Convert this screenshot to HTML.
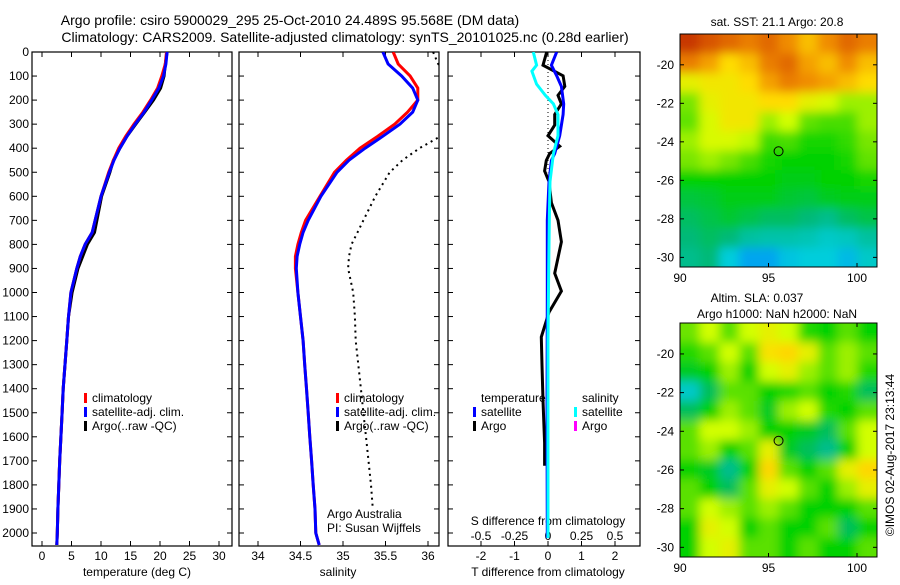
<!DOCTYPE html>
<html><head><meta charset="utf-8"><style>
html,body{margin:0;padding:0;background:#fff;}
svg text{font-family:"Liberation Sans",sans-serif;fill:#000;}
</style></head><body>
<svg id="c" width="900" height="580" xmlns="http://www.w3.org/2000/svg">
<defs>
<filter id="bl" x="-5%" y="-5%" width="110%" height="110%"><feGaussianBlur stdDeviation="5"/></filter>
<clipPath id="cp1"><rect x="41" y="52" width="191" height="494"/></clipPath>
<clipPath id="cp2"><rect x="239" y="52" width="200" height="494"/></clipPath>
<clipPath id="cp3"><rect x="448" y="52" width="192" height="494"/></clipPath>
<clipPath id="cm1"><rect x="680" y="34" width="197" height="233"/></clipPath>
<clipPath id="cm2"><rect x="680" y="323" width="197" height="234"/></clipPath>
</defs>
<text x="290" y="25" font-size="14" text-anchor="middle">Argo profile: csiro 5900029_295 25-Oct-2010 24.489S 95.568E (DM data)</text>
<text x="345" y="42" font-size="14" text-anchor="middle">Climatology: CARS2009. Satellite-adjusted climatology: synTS_20101025.nc (0.28d earlier)</text>
<g id="g"></g>
</svg>
<script>
// ---- data ----
const depths=[0,50,100,150,200,250,300,350,400,450,500,600,700,750,800,850,900,1000,1100,1200,1300,1400,1500,1600,1700,1800,1900,2000,2050];
const tempSat=[21.2,21.0,20.6,19.8,18.6,17.3,15.8,14.4,13.2,12.2,11.4,10.0,9.0,8.5,7.3,6.5,5.9,4.9,4.5,4.2,3.9,3.6,3.4,3.2,3.0,2.85,2.7,2.6,2.5];
const tempClim=[21.1,20.9,20.3,19.6,18.4,17.1,15.6,14.2,13.0,12.1,11.3,10.0,9.0,8.5,7.3,6.5,5.9,4.9,4.5,4.2,3.9,3.6,3.4,3.2,3.0,2.85,2.7,2.6,2.5];
const tempArgo=[21.2,20.9,20.7,20.1,18.9,17.4,15.9,14.4,13.2,12.1,11.5,10.1,9.3,8.9,7.7,6.9,6.1,5.1,4.5,4.2,3.9,3.6,3.4,3.2,3.0,2.85,2.7,2.6,2.5];
const salSat=[35.47,35.53,35.69,35.82,35.88,35.82,35.67,35.47,35.26,35.07,34.93,34.74,34.59,34.53,34.49,34.46,34.45,34.47,34.5,34.53,34.55,34.57,34.59,34.61,34.63,34.65,34.67,34.68,34.72];
const salClim=[35.59,35.65,35.79,35.88,35.88,35.76,35.61,35.41,35.2,35.04,34.9,34.73,34.56,34.51,34.47,34.44,34.44,34.47,34.5,34.53,34.55,34.57,34.59,34.61,34.63,34.65,34.67,34.68,34.72];
const salArgo=[36.06,36.12,36.25,36.3,36.3,36.25,36.2,36.15,35.9,35.7,35.55,35.38,35.24,35.17,35.1,35.07,35.06,35.12,35.14,35.15,35.18,35.21,35.24,35.27,35.3,35.33,35.35];
const dArgoDepth=[0,55,99,143,180,216,260,304,348,392,422,451,495,539,627,700,789,920,994,1082,1185,1302,1449,1625,1720];
const dTArgo=[-0.04,-0.15,0.45,0.5,0.3,0.4,0.2,0.2,0,0.35,0.05,-0.05,-0.1,0.03,0.1,0.3,0.4,0.2,0.4,0.03,-0.2,-0.18,-0.15,-0.1,-0.1];
const dSatDepth=[0,55,99,143,216,260,304,348,422,451,539,700,1000,1500,2021];
const dTSat=[0.26,0.1,0.26,0.4,0.47,0.45,0.4,0.35,0.2,0.1,0.03,-0.02,-0.02,-0.03,-0.02];
const dSDepth=[0,55,80,134,180,216,260,348,422,539,700,900,1200,2021];
const dSSat=[-0.11,-0.085,-0.12,-0.085,-0.02,0.04,0.075,0.075,0.04,0.015,0.01,0.005,0,0];
const depthTicks=[0,100,200,300,400,500,600,700,800,900,1000,1100,1200,1300,1400,1500,1600,1700,1800,1900,2000];
const tempTicks=[0,5,10,15,20,25,30];
const salTicks=[34,34.5,35,35.5,36];
const salTickLabels=["34","34.5","35","35.5","36"];
const dTTicks=[-2,-1,0,1,2];
const dSTicks=[-0.5,-0.25,0,0.25,0.5];
const dSTickLabels=["-0.5","-0.25","0","0.25","0.5"];
const lonTicks=[90,95,100];
const latTicks=[-20,-22,-24,-26,-28,-30];
const sstGrid=[
[0.92,0.88,0.85,0.82,0.85,0.8,0.75,0.8,0.85,0.82],
[0.82,0.78,0.72,0.75,0.82,0.85,0.78,0.75,0.8,0.75],
[0.68,0.7,0.7,0.72,0.78,0.82,0.8,0.78,0.75,0.72],
[0.6,0.68,0.7,0.7,0.72,0.72,0.68,0.66,0.62,0.62],
[0.58,0.66,0.7,0.7,0.62,0.65,0.58,0.56,0.56,0.62],
[0.62,0.66,0.66,0.64,0.55,0.56,0.52,0.52,0.54,0.6],
[0.6,0.62,0.6,0.56,0.52,0.5,0.5,0.5,0.52,0.58],
[0.5,0.5,0.5,0.5,0.5,0.48,0.48,0.5,0.5,0.52],
[0.45,0.46,0.48,0.48,0.48,0.46,0.45,0.47,0.48,0.48],
[0.42,0.44,0.46,0.44,0.42,0.42,0.4,0.38,0.42,0.44],
[0.4,0.42,0.4,0.36,0.35,0.35,0.34,0.32,0.33,0.36],
[0.38,0.4,0.3,0.22,0.22,0.28,0.3,0.3,0.26,0.32]];
const slaGrid=[
[0.59,0.65,0.575,0.65,0.68,0.65,0.53,0.5,0.575,0.5],
[0.53,0.575,0.65,0.575,0.71,0.725,0.68,0.575,0.62,0.575],
[0.47,0.5,0.62,0.5,0.65,0.68,0.62,0.575,0.62,0.53],
[0.32,0.425,0.575,0.575,0.5,0.53,0.575,0.5,0.53,0.425],
[0.425,0.5,0.62,0.575,0.47,0.62,0.65,0.53,0.5,0.575],
[0.575,0.65,0.65,0.62,0.5,0.5,0.47,0.425,0.575,0.65],
[0.575,0.62,0.5,0.575,0.68,0.47,0.425,0.38,0.5,0.65],
[0.5,0.47,0.38,0.5,0.725,0.575,0.5,0.575,0.68,0.725],
[0.575,0.5,0.425,0.575,0.68,0.65,0.575,0.5,0.62,0.68],
[0.575,0.65,0.62,0.575,0.62,0.575,0.5,0.5,0.5,0.575],
[0.5,0.68,0.65,0.5,0.575,0.5,0.5,0.575,0.425,0.5],
[0.5,0.65,0.68,0.575,0.575,0.5,0.575,0.5,0.5,0.575]];
const argoLon=95.568, argoLat=-24.489;

// ---- helpers ----
const NS="http://www.w3.org/2000/svg";
const G=document.getElementById('g');
function mk(tag,attrs,parent){const e=document.createElementNS(NS,tag);for(const k in attrs)e.setAttribute(k,attrs[k]);(parent||G).appendChild(e);return e;}
const yD=d=>52+d*0.2405;
const xT=t=>42+t*5.9;
const xS=s=>258+(s-34)*85;
const xDT=t=>548+t*33.5;
const xDS=s=>548+s*134;
function stepPath(xs,ds,xf){let p='';for(let i=0;i<xs.length;i++){const x=xf(xs[i]),y=yD(ds[i]);p+=(i?'L':'M')+x.toFixed(1)+','+y.toFixed(1);}return p;}
function txt(x,y,s,size,anchor,parent){const t=mk('text',{x:x,y:y,'font-size':size,'text-anchor':anchor||'middle'},parent);t.textContent=s;return t;}

function frame(x0,x1,name){
  const r=mk('rect',{x:x0,y:52,width:x1-x0,height:494,fill:'none',stroke:'#000','stroke-width':1.2});
  
  
  depthTicks.forEach(d=>{mk('line',{x1:x0,x2:x0+5,y1:yD(d),y2:yD(d),stroke:'#000'});mk('line',{x1:x1,x2:x1-5,y1:yD(d),y2:yD(d),stroke:'#000'});});
}
// panel 1
frame(32,232,'temperature-panel-frame');
depthTicks.forEach(d=>{const t=txt(29,yD(d)+4,String(d),12,'end');});
tempTicks.forEach(v=>{mk('line',{x1:xT(v),x2:xT(v),y1:546,y2:541,stroke:'#000'});mk('line',{x1:xT(v),x2:xT(v),y1:52,y2:57,stroke:'#000'});const t=txt(xT(v),560,String(v),12);});
let t1=txt(137,576,'temperature (deg C)',12);
const g1=mk('g',{'clip-path':'url(#cp1)'});
let p=mk('path',{d:stepPath(tempArgo,depths,xT),fill:'none',stroke:'#000','stroke-width':3},g1);
p=mk('path',{d:stepPath(tempClim,depths,xT),fill:'none',stroke:'#f00','stroke-width':3},g1);
p=mk('path',{d:stepPath(tempSat,depths,xT),fill:'none',stroke:'#00f','stroke-width':3},g1);
function legend(x,y,col,label,name){const gg=mk('g',{});mk('rect',{x:x,y:y-9,width:3,height:10,fill:col},gg);txt(x+8,y,label,12,'start',gg);}
legend(84,402,'#f00','climatology','legend-climatology');
legend(84,416,'#00f','satellite-adj. clim.','legend-satellite');
legend(84,430,'#000','Argo(..raw -QC)','legend-argo');
// panel 2
frame(239,439,'salinity-panel-frame');
salTicks.forEach((v,i)=>{mk('line',{x1:xS(v),x2:xS(v),y1:546,y2:541,stroke:'#000'});mk('line',{x1:xS(v),x2:xS(v),y1:52,y2:57,stroke:'#000'});const t=txt(xS(v),560,salTickLabels[i],12);});
t1=txt(338,576,'salinity',12);
const g2=mk('g',{'clip-path':'url(#cp2)'});
p=mk('path',{d:stepPath(salArgo,depths.slice(0,salArgo.length),xS),fill:'none',stroke:'#000','stroke-width':2,'stroke-dasharray':'2,4'},g2);
p=mk('path',{d:stepPath(salClim,depths,xS),fill:'none',stroke:'#f00','stroke-width':3},g2);
p=mk('path',{d:stepPath(salSat,depths,xS),fill:'none',stroke:'#00f','stroke-width':3},g2);
legend(336,402,'#f00','climatology','legend-climatology-2');
legend(336,416,'#00f','satellite-adj. clim.','legend-satellite-2');
legend(336,430,'#000','Argo(..raw -QC)','legend-argo-2');
t1=txt(327,518,'Argo Australia',12,'start');
t1=txt(327,532,'PI: Susan Wijffels',12,'start');
// panel 3
frame(448,640,'difference-panel-frame');
dTTicks.forEach(v=>{mk('line',{x1:xDT(v),x2:xDT(v),y1:546,y2:541,stroke:'#000'});mk('line',{x1:xDT(v),x2:xDT(v),y1:52,y2:57,stroke:'#000'});const t=txt(xDT(v),560,String(v),12);});
dSTicks.forEach((v,i)=>{const t=txt(xDS(v),540,dSTickLabels[i],12);});
t1=txt(548,525,'S difference from climatology',12);
t1=txt(548,576,'T difference from climatology',12);
const g3=mk('g',{'clip-path':'url(#cp3)'});
mk('line',{x1:548,x2:548,y1:52,y2:yD(500),stroke:'#000','stroke-dasharray':'1,3'},g3);
p=mk('path',{d:stepPath(dTArgo,dArgoDepth,xDT),fill:'none',stroke:'#000','stroke-width':3},g3);
p=mk('path',{d:stepPath(dTSat,dSatDepth,xDT),fill:'none',stroke:'#00f','stroke-width':3},g3);
p=mk('path',{d:stepPath(dSSat,dSDepth,xDS),fill:'none',stroke:'#0ff','stroke-width':3},g3);
t1=txt(481,402,'temperature',12,'start');
legend(473,416,'#00f','satellite','legend-t-satellite');
legend(473,430,'#000','Argo','legend-t-argo');
t1=txt(582,402,'salinity',12,'start');
legend(574,416,'#0ff','satellite','legend-s-satellite');
legend(574,430,'#f0f','Argo','legend-s-argo');

// ---- maps ----
const cmapStops=[[0,[0,60,255]],[0.15,[0,130,255]],[0.3,[0,205,220]],[0.4,[0,185,120]],[0.5,[0,210,0]],[0.6,[120,230,0]],[0.65,[210,255,0]],[0.72,[255,220,0]],[0.8,[240,140,0]],[0.9,[210,70,0]],[1,[160,0,0]]];
function jet(v){v=Math.max(0,Math.min(1,v));
 for(let i=1;i<cmapStops.length;i++){const a=cmapStops[i-1],b=cmapStops[i];
  if(v<=b[0]){const f=(v-a[0])/(b[0]-a[0]);const c=a[1].map((q,k)=>Math.round(q+(b[1][k]-q)*f));return `rgb(${c[0]},${c[1]},${c[2]})`;}}
 return 'rgb(160,0,0)';}
function map(y0,y1,grid,cp,name){
  const x0=680,x1=877;
  const lx=l=>x0+(l-90)*17.7;
  const ly=l=>y0+(-18.4-l)*((y1-y0)/12.1);
  const gm=mk('g',{'clip-path':'url(#'+cp+')'});
  
  
  mk('rect',{x:x0,y:y0,width:x1-x0,height:y1-y0,fill:jet(grid[6][5])},gm);
  const gb=mk('g',{filter:'url(#bl)'},gm);
  const rows=grid.length,cols=grid[0].length,cw=(x1-x0)/cols,ch=(y1-y0)/rows;
  for(let r=-1;r<=rows;r++)for(let c=-1;c<=cols;c++){
    const rr=Math.max(0,Math.min(rows-1,r)),cc=Math.max(0,Math.min(cols-1,c));
    mk('rect',{x:x0+c*cw,y:y0+r*ch,width:cw+0.5,height:ch+0.5,fill:jet(grid[rr][cc])},gb);
  }
  const ci=mk('circle',{cx:lx(argoLon),cy:ly(argoLat),r:4.5,fill:'none',stroke:'#000','stroke-width':1});
  
  
  mk('rect',{x:x0,y:y0,width:x1-x0,height:y1-y0,fill:'none',stroke:'#000'});
  lonTicks.forEach(v=>{mk('line',{x1:lx(v),x2:lx(v),y1:y1,y2:y1-4,stroke:'#000'});mk('line',{x1:lx(v),x2:lx(v),y1:y0,y2:y0+4,stroke:'#000'});const t=txt(lx(v),y1+15,String(v),12);});
  latTicks.forEach(v=>{mk('line',{x1:x0,x2:x0+4,y1:ly(v),y2:ly(v),stroke:'#000'});mk('line',{x1:x1,x2:x1-4,y1:ly(v),y2:ly(v),stroke:'#000'});const t=txt(x0-6,ly(v)+4,String(v),12,'end');});
}
map(34,267,sstGrid,'cm1','sst-map');
map(323,557,slaGrid,'cm2','sla-map');
t1=txt(777,26,'sat. SST: 21.1 Argo: 20.8',12);
t1=txt(757,302,'Altim. SLA: 0.037',12);
t1=txt(777,318,'Argo h1000: NaN h2000: NaN',12);
t1=txt(0,0,'©IMOS 02-Aug-2017 23:13:44',12);
t1.setAttribute('transform','translate(894,455) rotate(-90)');


</script>
</body></html>
